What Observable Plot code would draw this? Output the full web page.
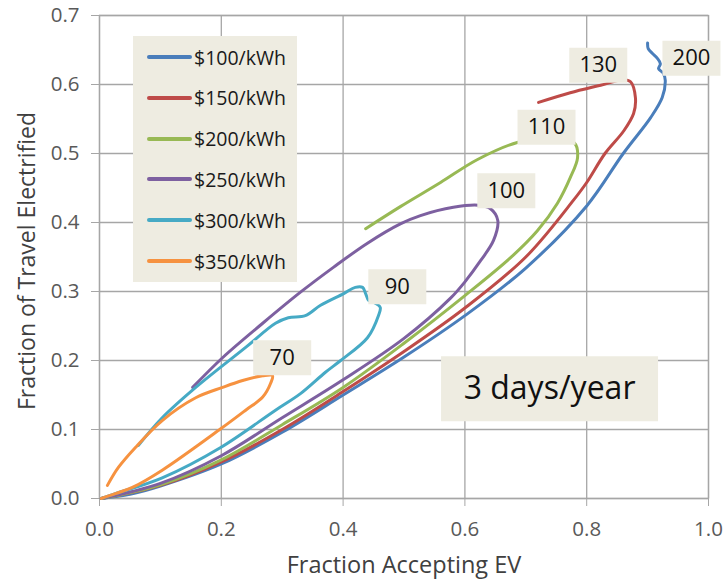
<!DOCTYPE html>
<html><head><meta charset="utf-8">
<script src="https://cdn.jsdelivr.net/npm/d3@7"></script>
<script src="https://cdn.jsdelivr.net/npm/@observablehq/plot@0.6"></script>
<style>
body{margin:0;background:#fff;font-family:"Open Sans",sans-serif;}
#wrap{position:relative;width:727px;height:579px;}
#legend{position:absolute;left:133px;top:36px;width:164px;height:246px;background:#eeece1;}
.item{position:absolute;left:14px;height:24px;display:flex;align-items:center;font-size:19.5px;color:#1a1a1a;white-space:nowrap;}
.item .sw{display:inline-block;width:45px;height:4px;border-radius:2px;margin-right:2px;}
</style></head><body><div id="wrap"><div id="legend"></div></div>
<script>
// ---- data ----
const series = ["$100/kWh", "$150/kWh", "$200/kWh", "$250/kWh", "$300/kWh", "$350/kWh"];
const colors = ["#4a7ebb", "#be4b48", "#98b954", "#7d60a0", "#46aac5", "#f69240"];

const curve100 = [[0.003,0],[0.05,0.006],[0.1,0.018],[0.2,0.050],[0.3,0.096],[0.4,0.150],[0.5,0.205],[0.6,0.265],[0.7,0.334],[0.8,0.424],[0.86,0.500],[0.905,0.552],[0.924,0.581],[0.929,0.606],[0.926,0.616],[0.918,0.623],[0.921,0.630],[0.916,0.638],[0.908,0.645],[0.901,0.652],[0.9,0.66]];
const curve150 = [[0.003,0],[0.1,0.019],[0.2,0.053],[0.3,0.100],[0.4,0.155],[0.5,0.213],[0.6,0.276],[0.7,0.350],[0.778,0.432],[0.8,0.458],[0.83,0.500],[0.861,0.533],[0.877,0.558],[0.880,0.581],[0.872,0.604],[0.86,0.607],[0.823,0.599],[0.773,0.588],[0.721,0.574]];
const curve200 = [[0.003,0],[0.1,0.020],[0.2,0.056],[0.3,0.107],[0.4,0.161],[0.5,0.225],[0.6,0.294],[0.675,0.349],[0.719,0.388],[0.752,0.428],[0.773,0.465],[0.785,0.494],[0.78,0.515],[0.74,0.522],[0.686,0.516],[0.62,0.491],[0.56,0.458],[0.494,0.423],[0.437,0.391]];
const curve250 = [[0.003,0],[0.1,0.022],[0.2,0.062],[0.3,0.117],[0.4,0.172],[0.5,0.232],[0.576,0.290],[0.6,0.314],[0.626,0.345],[0.647,0.374],[0.654,0.403],[0.642,0.420],[0.622,0.425],[0.581,0.422],[0.527,0.410],[0.494,0.398],[0.440,0.370],[0.384,0.335],[0.330,0.299],[0.268,0.254],[0.202,0.204],[0.153,0.161]];
const curve300 = [[0.003,0],[0.026,0.007],[0.103,0.030],[0.199,0.074],[0.289,0.128],[0.330,0.152],[0.371,0.183],[0.396,0.200],[0.440,0.233],[0.458,0.265],[0.461,0.277],[0.453,0.283],[0.442,0.287],[0.437,0.297],[0.432,0.306],[0.420,0.306],[0.401,0.297],[0.363,0.280],[0.338,0.265],[0.310,0.262],[0.289,0.254],[0.240,0.219],[0.158,0.161],[0.103,0.117],[0.064,0.077]];
const curve350 = [[0.003,0],[0.026,0.007],[0.054,0.016],[0.103,0.041],[0.199,0.101],[0.240,0.128],[0.268,0.147],[0.281,0.167],[0.284,0.178],[0.268,0.178],[0.235,0.171],[0.202,0.161],[0.158,0.146],[0.103,0.113],[0.059,0.074],[0.031,0.045],[0.013,0.019]];
const curves = [curve100, curve150, curve200, curve250, curve300, curve350];

const labelText = ["200", "130", "110", "100", "90", "70"];
const labelX = [0.972, 0.819, 0.734, 0.668, 0.489, 0.300];
const labelY = [0.638, 0.628, 0.538, 0.446, 0.307, 0.204];

const noteText = ["3 days/year"];
const noteX = [0.739];
const noteY = [0.159];

const xTicks = [0, 0.2, 0.4, 0.6, 0.8, 1.0];
const yTicks = [0, 0.1, 0.2, 0.3, 0.4, 0.5, 0.6, 0.7];

// ---- build tables ----
const rows = [];
curves.forEach((c, k) => c.forEach(([x, y]) => rows.push({s: series[k], x, y})));
const labels = labelText.map((t, i) => ({t, x: labelX[i], y: labelY[i]}));
const notes = noteText.map((t, i) => ({t, x: noteX[i], y: noteY[i]}));

const rectSymbol = (w, h) => ({draw(ctx) { ctx.rect(-w / 2, -h / 2, w, h); }});
const gridColor = "#a6a6a6";

const chart = Plot.plot({
  width: 727, height: 579,
  marginLeft: 99, marginRight: 19, marginTop: 15, marginBottom: 81,
  style: {fontFamily: "Open Sans", color: "#595959", background: "#fff"},
  x: {domain: [0, 1], ticks: xTicks},
  y: {domain: [0, 0.7], ticks: yTicks},
  color: {domain: series, range: colors},
  marks: [
    Plot.gridX(xTicks, {stroke: gridColor, strokeOpacity: 1, strokeWidth: 1.3}),
    Plot.gridY(yTicks, {stroke: gridColor, strokeOpacity: 1, strokeWidth: 1.3}),
    Plot.frame({stroke: gridColor, strokeWidth: 1.3}),
    Plot.axisX(xTicks, {tickFormat: d3.format(".1f"), tickSize: 8, tickPadding: 15, stroke: gridColor, fill: "#595959", fontSize: 20.5, label: null}),
    Plot.axisY(yTicks, {tickFormat: d3.format(".1f"), tickSize: 8, tickPadding: 12, stroke: gridColor, fill: "#595959", fontSize: 20.5, label: null}),
    Plot.line(rows, {x: "x", y: "y", z: "s", stroke: "s", strokeWidth: 3, curve: "catmull-rom"}),
    Plot.dot(labels, {x: "x", y: "y", symbol: rectSymbol(58, 35), fill: "#eeece1", stroke: null}),
    Plot.text(labels, {x: "x", y: "y", text: "t", fontSize: 22, fill: "#111", lineAnchor: "middle"}),
    Plot.dot(notes, {x: "x", y: "y", symbol: rectSymbol(217, 65), fill: "#eeece1", stroke: null}),
    Plot.text(notes, {x: "x", y: "y", text: "t", fontSize: 32, fill: "#111", lineAnchor: "middle"}),
    Plot.text(["Fraction Accepting EV"], {frameAnchor: "bottom", dy: 67, fontSize: 23.5, fill: "#404040", lineAnchor: "middle", textAnchor: "middle"}),
    Plot.text(["Fraction of Travel Electrified"], {frameAnchor: "left", dx: -72, dy: 4, rotate: -90, fontSize: 23, fill: "#404040", lineAnchor: "middle", textAnchor: "middle"})
  ]
});
const wrap = document.getElementById("wrap");
wrap.insertBefore(chart, wrap.firstChild);

const legend = document.getElementById("legend");
series.forEach((s, i) => {
  const d = document.createElement("div");
  d.className = "item";
  d.style.top = (9 + i * 40.8) + "px";
  d.innerHTML = `<span class="sw" style="background:${colors[i]}"></span><span>${s}</span>`;
  legend.appendChild(d);
});
</script>
</body></html>
